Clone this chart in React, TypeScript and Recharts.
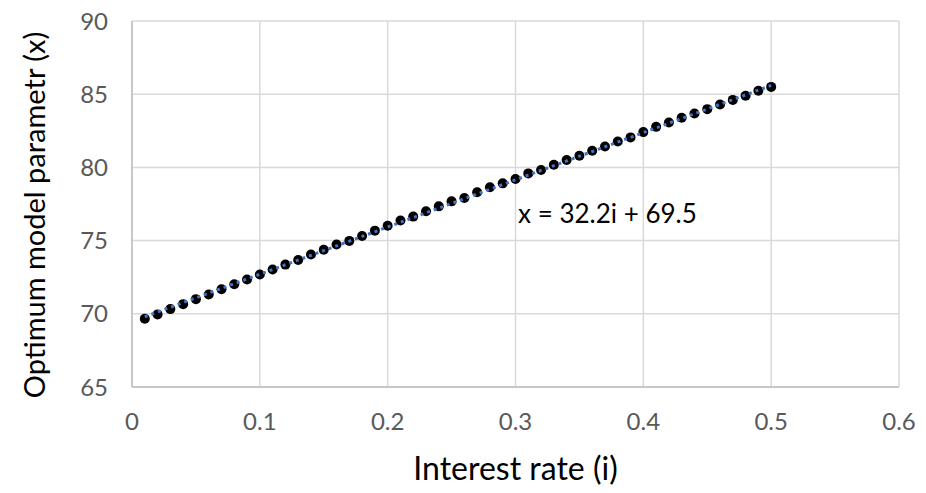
import React from "react";
import {
  ScatterChart,
  Scatter,
  XAxis,
  YAxis,
  CartesianGrid,
  ReferenceDot,
  Label,
} from "recharts";

// interest rate (i) for each point
const rates = [
  0.01, 0.02, 0.03, 0.04, 0.05, 0.06, 0.07, 0.08, 0.09, 0.1,
  0.11, 0.12, 0.13, 0.14, 0.15, 0.16, 0.17, 0.18, 0.19, 0.2,
  0.21, 0.22, 0.23, 0.24, 0.25, 0.26, 0.27, 0.28, 0.29, 0.3,
  0.31, 0.32, 0.33, 0.34, 0.35, 0.36, 0.37, 0.38, 0.39, 0.4,
  0.41, 0.42, 0.43, 0.44, 0.45, 0.46, 0.47, 0.48, 0.49, 0.5,
];
// optimum model parameter (x)
const params = [
  69.66, 69.96, 70.32, 70.66, 71.0, 71.32, 71.68, 72.02, 72.34, 72.68,
  73.02, 73.36, 73.68, 74.05, 74.37, 74.73, 74.98, 75.32, 75.68, 76.02,
  76.37, 76.64, 77.0, 77.34, 77.68, 77.91, 78.3, 78.64, 78.91, 79.21,
  79.59, 79.82, 80.18, 80.5, 80.8, 81.14, 81.43, 81.77, 82.05, 82.41,
  82.77, 83.07, 83.39, 83.68, 83.98, 84.3, 84.61, 84.89, 85.23, 85.5,
];
// trendline end points
const trendRates = [0.01, 0.5];
const trendParams = [69.8, 85.6];

const xTicks = [0, 0.1, 0.2, 0.3, 0.4, 0.5, 0.6];
const yTicks = [65, 70, 75, 80, 85, 90];
const equation = "x = 32.2i + 69.5";
const xTitle = "Interest rate (i)";
const yTitle = "Optimum model parametr (x)";

const points = rates.map((r, k) => ({ i: r, x: params[k] }));
const trend = trendRates.map((r, k) => ({ i: r, x: trendParams[k] }));

const font = "Lato, 'Open Sans', sans-serif";

export default function App() {
  return (
    <div
      style={{
        position: "absolute",
        left: 0,
        top: 0,
        width: 926,
        height: 493,
        background: "#fff",
        fontFamily: font,
      }}
    >
      <ScatterChart
        width={926}
        height={493}
        margin={{ top: 21, right: 27, bottom: 0, left: 0 }}
      >
        <CartesianGrid stroke="#d9d9d9" strokeWidth={1.5} />
        <XAxis
          type="number"
          dataKey="i"
          domain={[0, 0.6]}
          ticks={xTicks}
          tickFormatter={(v: number) => String(v)}
          stroke="#bfbfbf"
          strokeWidth={1.5}
          tickLine={false}
          tickSize={0}
          tickMargin={26}
          height={106}
          tick={{ fill: "#595959", fontSize: 24, fontFamily: font }}
        >
          <Label
            content={({ viewBox }: any) => (
              <text
                x={viewBox.x + viewBox.width / 2}
                y={viewBox.y + 80}
                textAnchor="middle"
                dominantBaseline="central"
                fill="#000"
                fontSize={32}
                fontFamily={font}
              >
                {xTitle}
              </text>
            )}
          />
        </XAxis>
        <YAxis
          type="number"
          dataKey="x"
          domain={[65, 90]}
          ticks={yTicks}
          stroke="#bfbfbf"
          strokeWidth={1.5}
          tickLine={false}
          tickSize={0}
          tickMargin={24}
          width={132}
          tick={{ fill: "#595959", fontSize: 24, fontFamily: font }}
        >
          <Label
            content={({ viewBox }: any) => {
              const cx = 33;
              const cy = viewBox.y + viewBox.height / 2 + 11;
              return (
                <text
                  x={cx}
                  y={cy}
                  transform={`rotate(-90, ${cx}, ${cy})`}
                  textAnchor="middle"
                  dominantBaseline="central"
                  fill="#000"
                  fontSize={29}
                  fontFamily={font}
                >
                  {yTitle}
                </text>
              );
            }}
          />
        </YAxis>
        <Scatter
          data={points}
          fill="#000"
          isAnimationActive={false}
          shape={(p: any) => <circle cx={p.cx} cy={p.cy} r={5} fill="#000" />}
        />
        <Scatter
          data={trend}
          isAnimationActive={false}
          line={{ stroke: "#4472C4", strokeWidth: 3, strokeDasharray: "3 4" }}
          shape={() => <g />}
        />
        <ReferenceDot
          x={0.302}
          y={76.82}
          r={0}
          fill="none"
          stroke="none"
          label={{
            value: equation,
            position: "right",
            offset: 0,
            fill: "#000",
            fontSize: 26,
            fontFamily: font,
          }}
        />
      </ScatterChart>
    </div>
  );
}
